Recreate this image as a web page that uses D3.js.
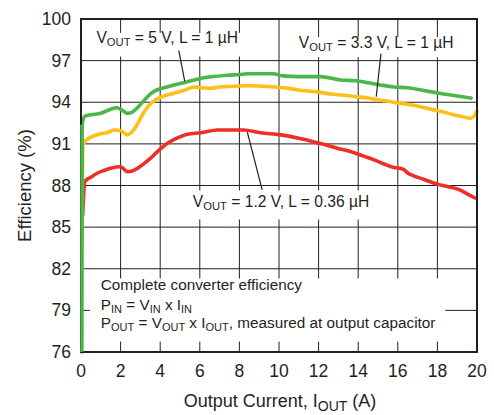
<!DOCTYPE html>
<html><head><meta charset="utf-8">
<script src="https://cdn.jsdelivr.net/npm/d3@7"></script>
<style>body{margin:0;background:#fff}svg{display:block}text{font-family:"Liberation Sans",Arial,Helvetica,sans-serif;fill:#231f20}</style>
</head><body><svg id="c" width="494" height="415"></svg>
<script>
// ---- data ----
const xTicks = [0,2,4,6,8,10,12,14,16,18,20];
const yTicks = [76,79,82,85,88,91,94,97,100];

const i5v  = [0.04,0.06,0.2,0.5,1.0,1.5,1.8,2.1,2.35,2.6,2.85,3.1,3.36,3.6,3.86,4.2,4.7,5.3,6.0,6.7,7.4,8.0,8.4,9.0,9.7,10.2,11.0,12.1,13.1,13.9,14.5,15.1,15.8,16.5,17.3,18.1,19.0,19.7];
const eff5v= [76,92.4,93.0,93.1,93.2,93.5,93.6,93.4,93.2,93.3,93.6,94.0,94.4,94.7,94.9,95.05,95.25,95.45,95.7,95.85,95.95,96.0,96.05,96.05,96.05,95.9,95.85,95.85,95.6,95.55,95.4,95.25,95.1,95.05,94.85,94.65,94.45,94.3];

const i33v  = [0.05,0.1,0.3,0.6,0.9,1.3,1.7,2.0,2.35,2.6,2.86,3.1,3.36,3.6,3.86,4.2,4.7,5.2,5.7,6.1,6.5,7.0,7.7,8.5,9.2,9.8,10.5,11.2,11.9,12.6,13.3,13.9,14.5,15.1,15.6,16.0,16.5,17.2,17.8,18.3,18.8,19.3,19.65,19.85,20];
const eff33v= [84,91.0,91.3,91.55,91.7,91.8,92.0,91.95,91.65,91.9,92.45,93.1,93.65,94.0,94.25,94.45,94.65,94.85,95.1,95.05,95.0,95.1,95.15,95.2,95.15,95.1,95.0,94.85,94.75,94.6,94.5,94.4,94.3,94.15,94.05,93.95,93.85,93.65,93.45,93.3,93.1,92.95,92.85,93.0,93.35];

const i12v  = [0.08,0.2,0.5,0.84,1.2,1.5,2.0,2.35,2.6,2.86,3.2,3.5,3.9,4.37,4.9,5.37,6.05,6.9,7.5,8.2,9.07,10.1,11.0,11.6,12.3,12.9,13.6,14.2,14.8,15.3,15.8,16.1,16.3,16.5,16.8,17.3,18.0,18.6,19.1,19.5,19.9];
const eff12v= [85.8,88.3,88.6,88.9,89.1,89.25,89.35,89.0,89.05,89.25,89.6,89.95,90.5,91.05,91.45,91.7,91.8,92.0,92.0,92.0,91.8,91.65,91.4,91.2,90.95,90.7,90.45,90.15,89.85,89.55,89.3,89.25,89.15,88.9,88.7,88.45,88.1,87.9,87.7,87.4,87.1];

const seriesNames  = ["1.2 V","3.3 V","5 V"];
const seriesColors = ["#ed2f26","#fdc019","#4bb749"];

// ---- layout ----
const svg = d3.select("#c");
const L=81, R=477, T=19, B=352;
const x = d3.scaleLinear().domain([0,20]).range([L,R]);
const y = d3.scaleLinear().domain([76,100]).range([B,T]);

// grid
const g = svg.append("g");
g.selectAll(".vx").data(xTicks.slice(1,-1)).join("line")
  .attr("x1",d=>x(d)).attr("x2",d=>x(d)).attr("y1",T).attr("y2",B)
  .attr("stroke","#231f20").attr("stroke-width",1);
g.selectAll(".hy").data(yTicks.slice(1,-1)).join("line")
  .attr("x1",L).attr("x2",R).attr("y1",d=>y(d)).attr("y2",d=>y(d))
  .attr("stroke","#231f20").attr("stroke-width",1);

// white backgrounds for annotations
function bg(x0,x1,y0,y1){
  svg.append("rect").attr("x",x(x0)).attr("y",y(y0)).attr("width",x(x1)-x(x0)).attr("height",y(y1)-y(y0)).attr("fill","#fff");
}
bg(0.45,18.4,81.3,76.75);
bg(0.6,8.1,99.0,97.3);
bg(10.8,19.0,98.7,97.25);
bg(5.5,14.8,87.65,85.55);

// axes labels
svg.append("g").selectAll("text").data(yTicks).join("text")
  .attr("x",L-10).attr("y",d=>y(d)+6).attr("text-anchor","end")
  .attr("font-size",17.5).text(d=>d);
svg.append("g").selectAll("text").data(xTicks).join("text")
  .attr("x",d=>x(d)).attr("y",B+25).attr("text-anchor","middle")
  .attr("font-size",17.5).text(d=>d);

// curves
const line = d3.line().x(d=>x(d[0])).y(d=>y(d[1])).curve(d3.curveMonotoneX);
const data = [d3.zip(i12v,eff12v), d3.zip(i33v,eff33v), d3.zip(i5v,eff5v)];
svg.append("g").selectAll("path").data(data).join("path")
  .attr("d",line).attr("fill","none")
  .attr("stroke",(d,i)=>seriesColors[i]).attr("stroke-width",3.6)
  .attr("stroke-linejoin","round").attr("stroke-linecap","round");

// frame
svg.append("rect").attr("x",L).attr("y",T).attr("width",R-L).attr("height",B-T)
  .attr("fill","none").attr("stroke","#231f20").attr("stroke-width",2);
// green over left axis (as in reference)
svg.append("line").attr("x1",x(0.04)).attr("x2",x(0.04)).attr("y1",y(76)).attr("y2",y(92.4))
  .attr("stroke",seriesColors[2]).attr("stroke-width",3);

// rich text helper: parts = [[text, isSub]]
function rich(parent, px, py, size, parts, r){
  r = r || 0.72;
  const t = parent.append("text").attr("x",px).attr("y",py).attr("font-size",size);
  let down=false;
  parts.forEach(([s,sub])=>{
    const ts = t.append("tspan").text(s);
    if(sub){ ts.attr("font-size",size*r).attr("dy", down?0:size*0.2); down=true; }
    else { if(down){ ts.attr("dy",-size*0.2); } down=false; }
  });
  return t;
}

// series annotations
rich(svg, x(0.78), y(98.27), 15.6, [["V"],["OUT",1],[" = 5 V, L = 1 µH"]]);
rich(svg, x(11.0), y(97.9), 15.6, [["V"],["OUT",1],[" = 3.3 V, L = 1 µH"]]);
rich(svg, x(5.65), y(86.45), 15.6, [["V"],["OUT",1],[" = 1.2 V, L = 0.36 µH"]]);
const leaders = [[4.94,97.72,5.24,95.5],[15.15,97.5,14.91,94.4],[9.15,87.68,8.4,91.85]];
svg.append("g").selectAll("line").data(leaders).join("line")
  .attr("x1",d=>x(d[0])).attr("y1",d=>y(d[1])).attr("x2",d=>x(d[2])).attr("y2",d=>y(d[3]))
  .attr("stroke","#231f20").attr("stroke-width",1.2);

// note box text
rich(svg, x(1.0), y(80.45), 15.3, [["Complete converter efficiency"]]);
rich(svg, x(1.0), y(79.05), 15.3, [["P"],["IN",1],[" = V"],["IN",1],["  x I"],["IN",1]]);
rich(svg, x(1.0), y(77.75), 15.3, [["P"],["OUT",1],[" = V"],["OUT",1],[" x I"],["OUT",1],[", measured at output capacitor"]]);

// axis titles
rich(svg, 280, 407, 18, [["Output Current, I"],["OUT",1],[" (A)"]], 0.78).attr("text-anchor","middle");
svg.append("text").attr("transform",`translate(31,${(T+B)/2}) rotate(-90)`)
  .attr("text-anchor","middle").attr("font-size",18.5).text("Efficiency (%)");
</script></body></html>
